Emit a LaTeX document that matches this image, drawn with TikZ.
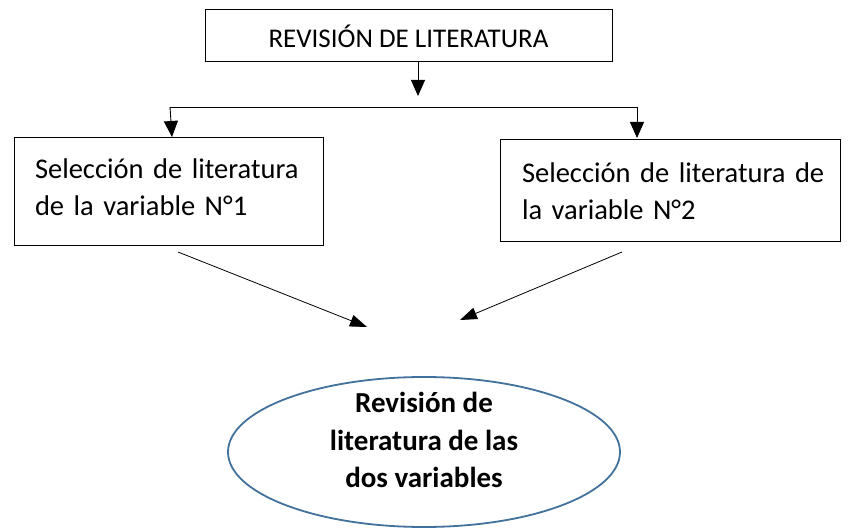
\documentclass[tikz,border=0pt]{standalone}
\usepackage{fontspec}
\setmainfont{Carlito}
\usetikzlibrary{arrows.meta,shapes.geometric}
\definecolor{ellblue}{HTML}{41719C}
\tikzset{
  box/.style={draw=black, line width=1pt, inner ysep=0pt, align=left, font=\fontsize{28.5}{37}\selectfont},
  conn/.style={line width=0.9pt, -{Triangle[length=16pt,width=14pt]}},
  thin/.style={line width=0.8pt, -{Triangle[length=17pt,width=12pt]}},
}
\begin{document}
\begin{tikzpicture}[x=1pt,y=-1pt]
\useasboundingbox (0,0) rectangle (849,529);
\node[draw=black, line width=1pt, minimum width=407pt, minimum height=52pt, inner sep=0pt, font=\fontsize{27}{30}\selectfont] (top) at (408.5,36) {REVISIÓN DE LITERATURA};
\node[box, draw=none, inner xsep=21pt, text width=267pt, minimum height=108pt] (b1) at (168.5,187) {\mbox{Selección de literatura}\\\mbox{de la variable N°1}};
\draw[line width=1pt] (14,138) rectangle (323,246);
\node[box, inner xsep=22pt, text width=296pt, minimum height=102pt] (b2) at (670,191) {\mbox{Selección de literatura de}\\\mbox{la variable N°2}};
\node[ellipse, draw=ellblue, line width=1.8pt, minimum width=392pt, minimum height=150pt, inner sep=0pt] (e) at (424,452) {};
\node[align=center, inner sep=0pt, font=\bfseries\fontsize{29}{37.5}\selectfont] (et) at (424,440) {Revisión de\\literatura de las\\dos variables};
\coordinate (t1) at (418,62);
\coordinate (t2) at (418,96);
\coordinate (hl) at (170,107);
\coordinate (hr) at (637,107);
\coordinate (l1) at (172,137);
\coordinate (r1) at (637,138);
\coordinate (d1s) at (178,252);
\coordinate (d1e) at (367,327);
\coordinate (d2s) at (622,252);
\coordinate (d2e) at (460,320);
\draw[conn] (t1) -- (t2);
\draw[line width=0.9pt] (hl) -- (hr);
\draw[conn] (hl) -- (l1);
\draw[conn] (hr) -- (r1);
\draw[thin] (d1s) -- (d1e);
\draw[thin] (d2s) -- (d2e);
\end{tikzpicture}
\end{document}
